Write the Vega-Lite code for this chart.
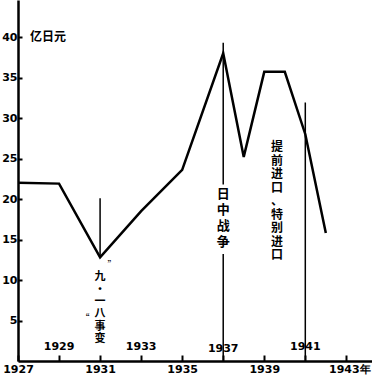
{
  "$schema": "https://vega.github.io/schema/vega-lite/v6.json",
  "width": 354,
  "height": 361,
  "autosize": {"type": "none"},
  "padding": {"left": 18, "top": 0, "right": 0, "bottom": 16},
  "background": "white",
  "config": {
    "view": {"stroke": null},
    "axis": {
      "grid": false,
      "domainColor": "black",
      "tickColor": "black",
      "labelColor": "black",
      "domainWidth": 2.5,
      "tickWidth": 2,
      "labelFont": "DejaVu Sans",
      "labelFontWeight": "bold",
      "labelFontSize": 11
    }
  },
  "datasets": {
    "series": [
      {"year": 1927, "value": 22.0},
      {"year": 1929, "value": 21.9},
      {"year": 1931, "value": 12.8},
      {"year": 1933, "value": 18.5},
      {"year": 1935, "value": 23.6},
      {"year": 1937, "value": 38.0},
      {"year": 1938, "value": 25.2},
      {"year": 1939, "value": 35.7},
      {"year": 1940, "value": 35.7},
      {"year": 1941, "value": 28.0},
      {"year": 1942, "value": 15.8}
    ],
    "events": [
      {"year": 1931, "value": 20.1, "value2": 12.8},
      {"year": 1937, "value": 39.3, "value2": 21.8},
      {"year": 1937, "value": 13.2, "value2": 0},
      {"year": 1941, "value": 31.9, "value2": 0}
    ],
    "notes": [
      {"year": 1931, "value": 11.1, "label": "九|·|一|八|事|变"},
      {"year": 1937, "value": 21.3, "label": "日|中|战|争"},
      {"year": 1939.62, "value": 27.0, "label": "提|前|进|口|、|特|别|进|口"},
      {"year": 1931.58, "value": 11.85, "label": "”"},
      {"year": 1930.27, "value": 5.3, "label": "“"}
    ],
    "inner": [
      {"year": 1929, "value": 1.7, "label": "1929"},
      {"year": 1933, "value": 1.7, "label": "1933"},
      {"year": 1937, "value": 1.5, "label": "1937"},
      {"year": 1941, "value": 1.7, "label": "1941"}
    ],
    "unit": [
      {"year": 1927.58, "value": 40, "label": "亿日元"}
    ]
  },
  "encoding": {
    "x": {
      "field": "year",
      "type": "quantitative",
      "scale": {"domain": [1927, 1944.25], "nice": false, "zero": false},
      "axis": {
        "title": null,
        "values": [1927, 1929, 1931, 1933, 1935, 1937, 1939, 1941, 1943],
        "tickSize": -6,
        "labelPadding": 8,
        "labelExpr": "indexof([1929,1933,1937,1941], datum.value) >= 0 ? '' : (datum.value == 1943 ? '1943年' : format(datum.value, 'd'))",
        "labelOffset": {"condition": {"test": "datum.value == 1943", "value": 3}, "value": 0},
        "labelFlush": false,
        "labelOverlap": false
      }
    },
    "y": {
      "field": "value",
      "type": "quantitative",
      "scale": {"domain": [0, 44.57], "nice": false},
      "axis": {
        "title": null,
        "values": [5, 10, 15, 20, 25, 30, 35, 40],
        "tickSize": -4,
        "labelPadding": 5,
        "labelFlush": false
      }
    }
  },
  "layer": [
    {
      "data": {"name": "series"},
      "mark": {"type": "line", "color": "black", "strokeWidth": 2.5}
    },
    {
      "data": {"name": "events"},
      "mark": {"type": "rule", "color": "black", "strokeWidth": 1.5},
      "encoding": {"y2": {"field": "value2"}}
    },
    {
      "data": {"name": "notes"},
      "transform": [{"filter": "datum.label == '九|·|一|八|事|变'"}],
      "mark": {"type": "text", "font": "Noto Sans CJK SC", "fontWeight": "bold", "fontSize": 11, "lineBreak": "|", "lineHeight": 12.4, "baseline": "top", "color": "black"},
      "encoding": {"text": {"field": "label"}}
    },
    {
      "data": {"name": "notes"},
      "transform": [{"filter": "datum.label == '日|中|战|争'"}],
      "mark": {"type": "text", "font": "Noto Sans CJK SC", "fontWeight": "bold", "fontSize": 13, "lineBreak": "|", "lineHeight": 16, "baseline": "top", "color": "black"},
      "encoding": {"text": {"field": "label"}}
    },
    {
      "data": {"name": "notes"},
      "transform": [{"filter": "datum.label == '提|前|进|口|、|特|别|进|口'"}],
      "mark": {"type": "text", "font": "Noto Sans CJK SC", "fontWeight": "bold", "fontSize": 12, "lineBreak": "|", "lineHeight": 13.5, "baseline": "top", "color": "black"},
      "encoding": {"text": {"field": "label"}}
    },
    {
      "data": {"name": "notes"},
      "transform": [{"filter": "length(datum.label) == 1"}],
      "mark": {"type": "text", "font": "Noto Sans CJK SC", "fontSize": 9, "baseline": "middle", "color": "black"},
      "encoding": {"text": {"field": "label"}}
    },
    {
      "data": {"name": "inner"},
      "mark": {"type": "text", "font": "DejaVu Sans", "fontWeight": "bold", "fontSize": 11, "baseline": "middle", "color": "black"},
      "encoding": {"text": {"field": "label"}}
    },
    {
      "data": {"name": "unit"},
      "mark": {"type": "text", "font": "Noto Sans CJK SC", "fontWeight": "bold", "fontSize": 12, "align": "left", "baseline": "middle", "color": "black"},
      "encoding": {"text": {"field": "label"}}
    }
  ]
}
